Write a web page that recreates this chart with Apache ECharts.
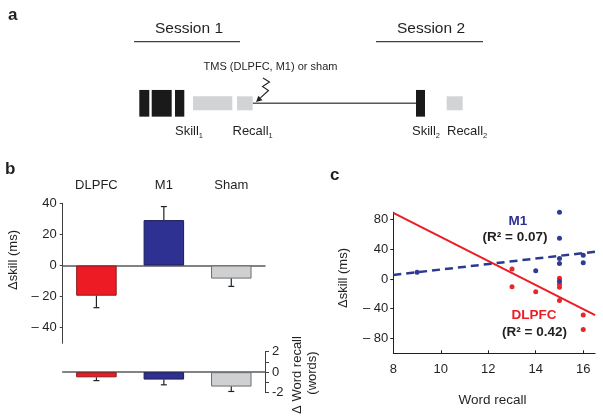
<!DOCTYPE html>
<html><head><meta charset="utf-8">
<script src="https://cdn.jsdelivr.net/npm/echarts@6/dist/echarts.min.js"></script>
<style>html,body{margin:0;padding:0;background:#fff}#c{width:603px;height:420px}</style>
</head><body><div id="c"></div>
<script>
// ---------- data ----------
const groups = ['DLPFC', 'M1', 'Sham'];
const skillMean = [-19.4, 29.2, -8.4];
const skillErr = [-27.1, 37.9, -13.4];
const recallMean = [-0.5, -0.72, -1.4];
const recallErr = [-0.82, -1.23, -1.88];
const skillTicks = [-40, -20, 0, 20, 40];
const recallTicks = [-2, 0, 2];
const m1Points = [[9, 9], [14, 11], [15, 90], [15, 55], [15, 27.5], [15, 21], [15, -3], [16, 32], [16, 22]];
const dlpfcPoints = [[13, 13.5], [13, -10.5], [14, -17], [15, 1], [15, -11], [15, -7], [15, -29], [16, -48.5], [16, -68]];
const m1Fit = [[8, 5.4], [16.5, 36.8]];
const dlpfcFit = [[8, 89], [16.5, -48.5]];
const corrYTicks = [-80, -40, 0, 40, 80];
const corrXTicks = [8, 10, 12, 14, 16];
// schematic timeline (panel a), in timeline units
const skillBlocks = [[139.3, 149.3], [151.7, 171.7], [175, 184.3], [416, 425]];
const recallBlocks = [[193, 232.3], [237, 252.7], [446.7, 462.7]];
const delaySpan = [[252.7, 416]];
const sessionSpans = [[134, 240], [376, 483]];
const tmsBolt = [[263, 78], [269.5, 82], [262.5, 86.5], [268.5, 90.5], [256, 102]];

// ---------- style ----------
const FONT = '"Liberation Sans", Arial, Helvetica, sans-serif';
const TXT = '#231f20';
const RED = '#ed1c24', BLUE = '#2e3192', GRAY = '#cfd0d2';
const barFill = [RED, BLUE, GRAY];
const barEdge = ['#8a1a1c', '#1b1d5a', '#6d6e70'];
const TRACK_Y = 103.3, RULE_Y = 41.7;

const chart = echarts.init(document.getElementById('c'));

function spanSeries(data, yc, h, fill, stroke, lw) {
  return {
    type: 'custom', xAxisIndex: 0, yAxisIndex: 0, clip: false, silent: true, data: data,
    renderItem(params, api) {
      const a = api.coord([api.value(0), yc]);
      const b = api.coord([api.value(1), yc]);
      if (!h) {
        return { type: 'line', shape: { x1: a[0], y1: a[1], x2: b[0], y2: b[1] }, style: { stroke: stroke, lineWidth: lw } };
      }
      const hh = api.size([0, h])[1];
      return { type: 'rect', shape: { x: a[0], y: a[1] - hh / 2, width: b[0] - a[0], height: hh }, style: { fill: fill } };
    }
  };
}

function errSeries(xi, yi, mean, err) {
  return {
    type: 'custom', xAxisIndex: xi, yAxisIndex: yi, silent: true, z: 5,
    data: groups.map((g, i) => [i, mean[i], err[i]]),
    renderItem(params, api) {
      const p0 = api.coord([api.value(0), api.value(1)]);
      const p1 = api.coord([api.value(0), api.value(2)]);
      return { type: 'group', children: [
        { type: 'line', shape: { x1: p0[0], y1: p0[1], x2: p1[0], y2: p1[1] }, style: { stroke: '#222', lineWidth: 1.2 } },
        { type: 'line', shape: { x1: p1[0] - 3, y1: p1[1], x2: p1[0] + 3, y2: p1[1] }, style: { stroke: '#222', lineWidth: 1.2 } }
      ] };
    }
  };
}

const minusFmt = v => (v < 0 ? '\u2013 ' + (-v) : String(v));

function txt(x, y, text, size, opts) {
  opts = opts || {};
  return {
    type: 'text', x: x, y: y, rotation: opts.rot || 0, silent: true,
    style: {
      text: text, fontSize: size, fontFamily: FONT, fontWeight: opts.bold ? 'bold' : 'normal',
      fill: opts.color || TXT, align: opts.align || 'center', verticalAlign: 'middle', rich: opts.rich
    }
  };
}
function subTxt(x, y, main, sub) {
  return txt(x, y, '{m|' + main + '}{s|' + sub + '}', 13, {
    align: 'left',
    rich: {
      m: { fontSize: 13, fontFamily: FONT, fill: TXT, lineHeight: 16 },
      s: { fontSize: 7.5, fontFamily: FONT, fill: TXT, lineHeight: 9, verticalAlign: 'bottom' }
    }
  });
}

const option = {
  animation: false,
  backgroundColor: '#fff',
  grid: [
    { left: 0, top: 0, width: 603, height: 140 },
    { left: 62.7, top: 203.3, width: 202.3, height: 140 },
    { left: 62.7, top: 351.7, width: 202.3, height: 41 },
    { left: 393.3, top: 212.2, width: 201.8, height: 141.1 }
  ],
  xAxis: [
    { gridIndex: 0, type: 'value', min: 0, max: 603, show: false },
    { gridIndex: 1, type: 'category', data: groups, axisLine: { onZero: true, lineStyle: { color: '#58595b', width: 1.5 } }, axisTick: { show: false }, axisLabel: { show: false } },
    { gridIndex: 1, type: 'category', data: groups, position: 'top', axisLine: { show: false, onZero: false }, axisTick: { show: false },
      axisLabel: { margin: 11, fontSize: 13, fontFamily: FONT, color: TXT } },
    { gridIndex: 2, type: 'category', data: groups, axisLine: { onZero: true, lineStyle: { color: '#58595b', width: 1.5 } }, axisTick: { show: false }, axisLabel: { show: false } },
    { gridIndex: 3, type: 'value', min: 8, max: 16.5, splitLine: { show: false },
      axisLine: { onZero: false, lineStyle: { color: '#231f20', width: 1 } },
      axisTick: { inside: true, length: 3, customValues: corrXTicks, lineStyle: { color: '#231f20' } },
      axisLabel: { customValues: corrXTicks, margin: 10, fontSize: 13, fontFamily: FONT, color: TXT } }
  ],
  yAxis: [
    { gridIndex: 0, type: 'value', min: 0, max: 140, inverse: true, show: false },
    { gridIndex: 1, type: 'value', min: -50, max: 40, splitLine: { show: false },
      axisLine: { show: true, lineStyle: { color: '#414042', width: 1 } },
      axisTick: { show: true, length: 3, customValues: skillTicks, lineStyle: { color: '#414042' } },
      axisLabel: { customValues: skillTicks, formatter: minusFmt, margin: 6, fontSize: 13, fontFamily: FONT, color: TXT } },
    { gridIndex: 2, type: 'value', min: -2, max: 2, interval: 1, position: 'right', splitLine: { show: false },
      axisLine: { show: true, lineStyle: { color: '#414042', width: 1 } },
      axisTick: { show: true, length: 4, lineStyle: { color: '#414042' } },
      axisLabel: { customValues: recallTicks, margin: 7, fontSize: 13, fontFamily: FONT, color: TXT,
        formatter: v => (v < 0 ? '-' + (-v) : String(v)) } },
    { gridIndex: 3, type: 'value', min: -100, max: 90, splitLine: { show: false },
      axisLine: { show: true, lineStyle: { color: '#231f20', width: 1 } },
      axisTick: { show: true, length: 3, customValues: corrYTicks, lineStyle: { color: '#231f20' } },
      axisLabel: { customValues: corrYTicks, formatter: minusFmt, margin: 5, fontSize: 13, fontFamily: FONT, color: TXT } }
  ],
  series: [
    // panel a schematic
    spanSeries(sessionSpans, RULE_Y, 0, null, '#414042', 1.2),
    spanSeries(delaySpan, TRACK_Y, 0, null, '#58595b', 1.5),
    spanSeries(skillBlocks, TRACK_Y, 26.7, '#1a1a1a'),
    spanSeries(recallBlocks, TRACK_Y, 14, '#d1d3d4'),
    {
      type: 'custom', xAxisIndex: 0, yAxisIndex: 0, clip: false, silent: true, data: [[0]],
      renderItem(params, api) {
        const pts = tmsBolt.map(p => api.coord(p));
        const P = pts[pts.length - 1], Q = pts[pts.length - 2];
        let dx = P[0] - Q[0], dy = P[1] - Q[1];
        const L = Math.hypot(dx, dy); dx /= L; dy /= L;
        const bx = P[0] - dx * 6, by = P[1] - dy * 6;
        return { type: 'group', children: [
          { type: 'polyline', shape: { points: pts.slice(0, -1).concat([[bx, by]]) }, style: { stroke: '#231f20', lineWidth: 1.1, fill: null } },
          { type: 'polygon', shape: { points: [P, [bx - dy * 3, by + dx * 3], [bx + dy * 3, by - dx * 3]] }, style: { fill: '#231f20' } }
        ] };
      }
    },
    // panel b
    { type: 'bar', xAxisIndex: 1, yAxisIndex: 1, barWidth: 40.5, silent: true,
      data: skillMean.map((v, i) => ({ value: v, itemStyle: { color: barFill[i], borderColor: barEdge[i], borderWidth: 1 } })) },
    errSeries(1, 1, skillMean, skillErr),
    { type: 'bar', xAxisIndex: 3, yAxisIndex: 2, barWidth: 40.5, silent: true,
      data: recallMean.map((v, i) => ({ value: v, itemStyle: { color: barFill[i], borderColor: barEdge[i], borderWidth: 1 } })) },
    errSeries(3, 2, recallMean, recallErr),
    // panel c
    { type: 'line', xAxisIndex: 4, yAxisIndex: 3, data: dlpfcFit, showSymbol: false, silent: true, z: 3,
      lineStyle: { color: RED, width: 2 } },
    { type: 'line', xAxisIndex: 4, yAxisIndex: 3, data: m1Fit, showSymbol: false, silent: true, z: 3,
      lineStyle: { color: '#2b3990', width: 2.5, type: [8, 5] } },
    { type: 'scatter', xAxisIndex: 4, yAxisIndex: 3, data: dlpfcPoints, symbolSize: 5, silent: true, z: 4,
      itemStyle: { color: '#e8262d', opacity: 1 } },
    { type: 'scatter', xAxisIndex: 4, yAxisIndex: 3, data: m1Points, symbolSize: 5, silent: true, z: 4,
      itemStyle: { color: '#2e3c93', opacity: 1 } }
  ],
  graphic: [
    txt(8, 15, 'a', 17, { bold: true, align: 'left' }),
    txt(189, 28.5, 'Session 1', 15.5),
    txt(431, 28.5, 'Session 2', 15.5),
    txt(270.5, 67, 'TMS (DLPFC, M1) or sham', 11),
    subTxt(175, 131.5, 'Skill', '1'),
    subTxt(232.5, 131.5, 'Recall', '1'),
    subTxt(412, 131.5, 'Skill', '2'),
    subTxt(447, 131.5, 'Recall', '2'),
    txt(5, 169, 'b', 17, { bold: true, align: 'left' }),
    txt(13, 260, 'Δskill (ms)', 13, { rot: Math.PI / 2 }),
    txt(297, 375, 'Δ Word recall', 13, { rot: Math.PI / 2 }),
    txt(312, 373, '(words)', 13, { rot: Math.PI / 2 }),
    txt(330, 175, 'c', 17, { bold: true, align: 'left' }),
    txt(343, 278, 'Δskill (ms)', 13, { rot: Math.PI / 2 }),
    txt(492.5, 400.5, 'Word recall', 13.5),
    txt(518, 221, 'M1', 13.5, { bold: true, color: '#2e3192' }),
    txt(515, 237, '(R\u00b2 = 0.07)', 13.5, { bold: true }),
    txt(534, 315, 'DLPFC', 13.5, { bold: true, color: RED }),
    txt(534.5, 332, '(R\u00b2 = 0.42)', 13.5, { bold: true })
  ]
};
chart.setOption(option);
</script>
</body></html>
